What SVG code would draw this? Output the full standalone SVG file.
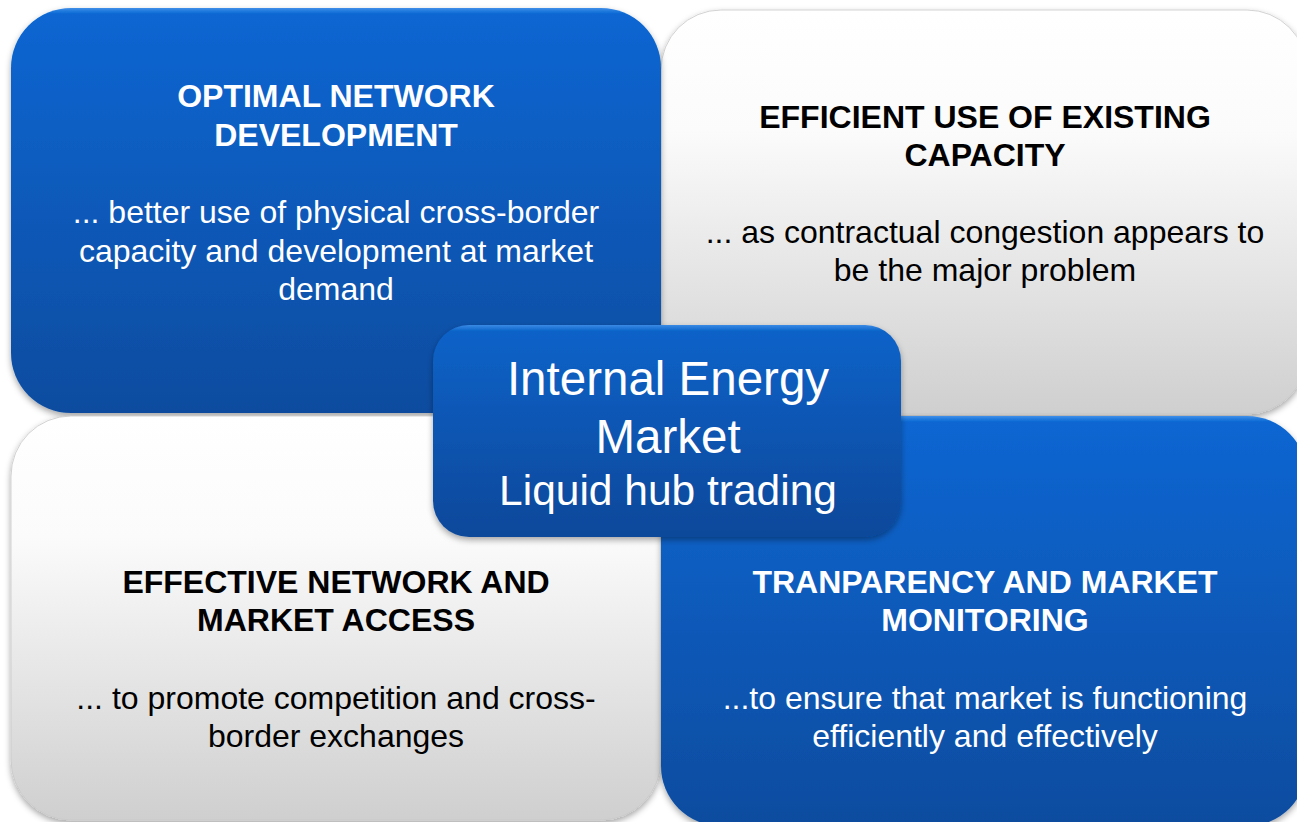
<svg xmlns="http://www.w3.org/2000/svg" width="1297" height="822" viewBox="0 0 1297 822">
<defs>
<linearGradient id="gBlue" x1="0" y1="0" x2="0" y2="1">
<stop offset="0" stop-color="#3f8fe8"/>
<stop offset="0.015" stop-color="#0766d2"/>
<stop offset="1" stop-color="#0a4c9f"/>
</linearGradient>
<linearGradient id="gGrey" x1="0" y1="0" x2="0" y2="1">
<stop offset="0" stop-color="#ffffff"/>
<stop offset="0.3" stop-color="#fbfbfb"/>
<stop offset="1" stop-color="#cfcfcf"/>
</linearGradient>
<linearGradient id="gCenter" x1="0" y1="0" x2="0" y2="1">
<stop offset="0" stop-color="#3a8ae4"/>
<stop offset="0.03" stop-color="#0a62c8"/>
<stop offset="1" stop-color="#0a489a"/>
</linearGradient>
<filter id="sh" x="-10%" y="-10%" width="120%" height="125%">
<feDropShadow dx="0" dy="3" stdDeviation="3" flood-color="#000" flood-opacity="0.35"/>
</filter>
</defs>
<style>
.t{font-family:"Liberation Sans",Arial,sans-serif;text-anchor:middle}
.h{font-weight:bold;font-size:32px}
.b{font-size:32px}
.w{fill:#ffffff}
.k{fill:#000000}
.c{font-size:47.5px;fill:#ffffff}
</style>
<rect width="1297" height="822" fill="#ffffff"/>
<g id="node-efficient-use">
<rect x="661" y="10" width="646" height="404" rx="60" fill="url(#gGrey)" filter="url(#sh)" stroke="#c8c8c8" stroke-width="0.8"/>
<text class="t h k" x="985" y="128">EFFICIENT USE OF EXISTING</text>
<text class="t h k" x="985" y="166">CAPACITY</text>
<text class="t b k" x="985" y="243">... as contractual congestion appears to</text>
<text class="t b k" x="985" y="281">be the major problem</text>
</g>
<g id="node-optimal-network">
<rect x="11" y="8" width="650" height="405" rx="60" fill="url(#gBlue)" filter="url(#sh)"/>
<text class="t h w" x="336" y="107">OPTIMAL NETWORK</text>
<text class="t h w" x="336" y="146">DEVELOPMENT</text>
<text class="t b w" x="336" y="223">... better use of physical cross-border</text>
<text class="t b w" x="336" y="262">capacity and development at market</text>
<text class="t b w" x="336" y="300">demand</text>
</g>
<g id="node-effective-access">
<rect x="11" y="416" width="650" height="404" rx="60" fill="url(#gGrey)" filter="url(#sh)" stroke="#c8c8c8" stroke-width="0.8"/>
<text class="t h k" x="336" y="593">EFFECTIVE NETWORK AND</text>
<text class="t h k" x="336" y="631">MARKET ACCESS</text>
<text class="t b k" x="336" y="709">... to promote competition and cross-</text>
<text class="t b k" x="336" y="747">border exchanges</text>
</g>
<g id="node-transparency">
<rect x="661" y="416" width="646" height="410" rx="60" fill="url(#gBlue)" filter="url(#sh)"/>
<text class="t h w" x="985" y="593">TRANPARENCY AND MARKET</text>
<text class="t h w" x="985" y="631">MONITORING</text>
<text class="t b w" x="985" y="709">...to ensure that market is functioning</text>
<text class="t b w" x="985" y="747">efficiently and effectively</text>
</g>
<g id="connectors"></g>
<g id="node-center">
<rect x="433" y="325" width="468" height="212" rx="36" fill="url(#gCenter)" filter="url(#sh)"/>
<text class="t c" x="668" y="395">Internal Energy</text>
<text class="t c" x="668" y="453">Market</text>
<text class="t c" x="668" y="505" style="font-size:42.5px">Liquid hub trading</text>
</g>
</svg>
